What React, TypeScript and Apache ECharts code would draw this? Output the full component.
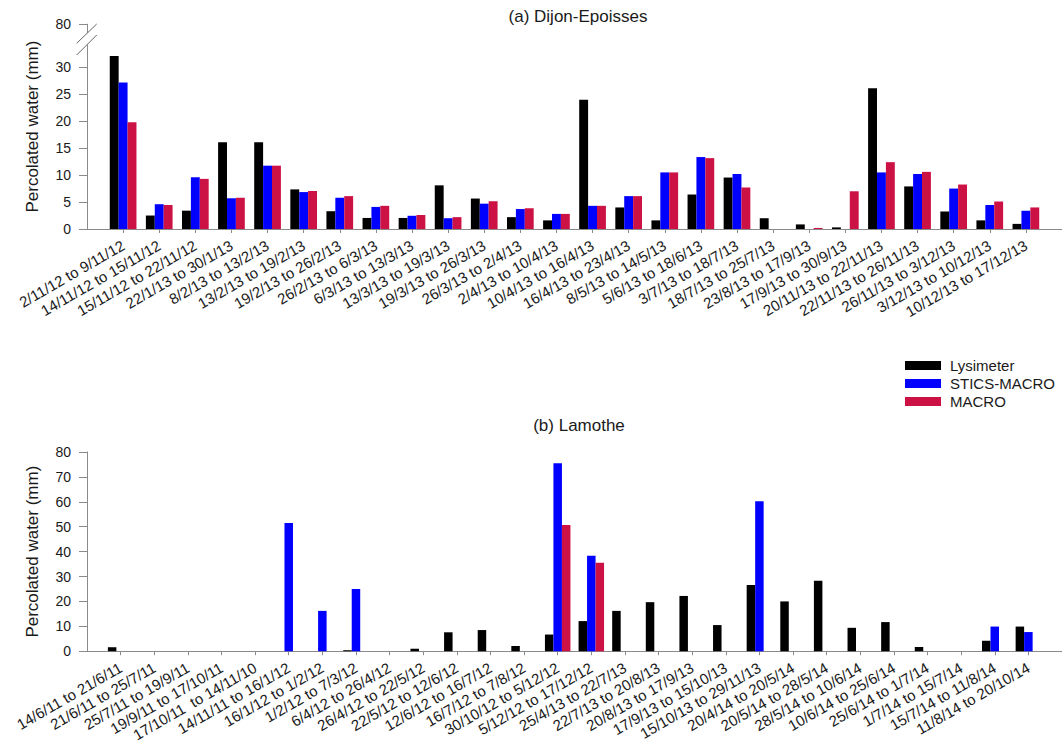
import React, { useEffect, useRef } from "react";
import * as echarts from "echarts";

const seriesNames = ["Lysimeter", "STICS-MACRO", "MACRO"];
const seriesColors = ["#000000", "#0000FF", "#CC1144"];

const dijonTitle = "(a) Dijon-Epoisses";
const dijonCategories = [
  "2/11/12 to 9/11/12",
  "14/11/12 to 15/11/12",
  "15/11/12 to 22/11/12",
  "22/1/13 to 30/1/13",
  "8/2/13 to 13/2/13",
  "13/2/13 to 19/2/13",
  "19/2/13 to 26/2/13",
  "26/2/13 to 6/3/13",
  "6/3/13 to 13/3/13",
  "13/3/13 to 19/3/13",
  "19/3/13 to 26/3/13",
  "26/3/13 to 2/4/13",
  "2/4/13 to 10/4/13",
  "10/4/13 to 16/4/13",
  "16/4/13 to 23/4/13",
  "8/5/13 to 14/5/13",
  "5/6/13 to 18/6/13",
  "3/7/13 to 18/7/13",
  "18/7/13 to 25/7/13",
  "23/8/13 to 17/9/13",
  "17/9/13 to 30/9/13",
  "20/11/13 to 22/11/13",
  "22/11/13 to 26/11/13",
  "26/11/13 to 3/12/13",
  "3/12/13 to 10/12/13",
  "10/12/13 to 17/12/13",
];
const dijonLysimeter = [32.1, 2.5, 3.4, 16.1, 16.1, 7.35, 3.3, 2.05, 2.05, 8.1, 5.65, 2.2, 1.6, 24.0, 4.0, 1.6, 6.4, 9.55, 2.0, 0.85, 0.3, 26.1, 7.9, 3.25, 1.6, 0.95];
const dijonSticsMacro = [27.2, 4.6, 9.6, 5.7, 11.75, 6.85, 5.8, 4.1, 2.45, 2.0, 4.7, 3.7, 2.8, 4.3, 6.1, 10.5, 13.35, 10.2, 0, 0, 0, 10.5, 10.2, 7.5, 4.45, 3.4];
const dijonMacro = [19.8, 4.45, 9.3, 5.8, 11.75, 7.05, 6.1, 4.3, 2.6, 2.2, 5.15, 3.85, 2.8, 4.3, 6.1, 10.5, 13.15, 7.7, 0, 0.2, 7.0, 12.4, 10.6, 8.25, 5.1, 4.0];
const dijonYTicks = [0, 5, 10, 15, 20, 25, 30];
const dijonBreakValue = 38; // position of the label above the axis break
const dijonBreakLabel = "80";

const lamotheTitle = "(b) Lamothe";
const lamotheCategories = [
  "14/6/11 to 21/6/11",
  "21/6/11 to 25/7/11",
  "25/7/11 to 19/9/11",
  "19/9/11 to 17/10/11",
  "17/10/11  to 14/11/10",
  "14/11/11 to 16/1/12",
  "16/1/12 to 1/2/12",
  "1/2/12 to 7/3/12",
  "6/4/12 to 26/4/12",
  "26/4/12 to 22/5/12",
  "22/5/12 to 12/6/12",
  "12/6/12 to 16/7/12",
  "16/7/12 to 7/8/12",
  "30/10/12 to 5/12/12",
  "5/12/12 to 17/12/12",
  "25/4/13 to 22/7/13",
  "22/7/13 to 20/8/13",
  "20/8/13 to 17/9/13",
  "17/9/13 to 15/10/13",
  "15/10/13 to 29/11/13",
  "20/4/14 to 20/5/14",
  "20/5/14 to 28/5/14",
  "28/5/14 to 10/6/14",
  "10/6/14 to 25/6/14",
  "25/6/14 to 1/7/14",
  "1/7/14 to 15/7/14",
  "15/7/14 to 11/8/14",
  "11/8/14 to 20/10/14",
];
const lamotheLysimeter = [1.6, 0, 0, 0, 0, 0, 0, 0.4, 0, 1.0, 7.6, 8.5, 2.1, 6.7, 12.1, 16.2, 19.7, 22.2, 10.5, 26.6, 20.0, 28.3, 9.4, 11.7, 1.7, 0, 4.2, 9.9];
const lamotheSticsMacro = [0, 0, 0, 0, 0, 51.5, 16.2, 25.0, 0, 0, 0, 0, 0, 75.5, 38.3, 0, 0, 0, 0, 60.2, 0, 0, 0, 0, 0, 0, 9.9, 7.7];
const lamotheMacro = [0, 0, 0, 0, 0, 0, 0, 0, 0, 0, 0, 0, 0, 50.7, 35.5, 0, 0, 0, 0, 0, 0, 0, 0, 0, 0, 0, 0, 0];
const lamotheYMax = 80;
const lamotheYInterval = 10;

const yAxisName = "Percolated water (mm)";

const FONT = "'Liberation Sans', Arial, Helvetica, sans-serif";
const TEXT = "#1a1a1a";
const AXIS = "#8a8a8a";

export default function App() {
  const ref = useRef<HTMLDivElement>(null);

  useEffect(() => {
    if (!ref.current) return;
    const chart = echarts.init(ref.current, undefined, { renderer: "svg" });

    const dijonPos = dijonCategories.map((_, i) => i + 1);
    const lamothePos = lamotheCategories.map((_, i) => i + 1);

    const xAxisCommon = (cats: string[], pos: number[], max: number, gridIndex: number) => ({
      gridIndex,
      type: "value",
      min: 0,
      max,
      axisLine: { show: true, onZero: false, lineStyle: { color: AXIS, width: 1 } },
      axisTick: { show: true, length: 4, customValues: pos, lineStyle: { color: AXIS } },
      axisLabel: {
        customValues: pos,
        formatter: (v: number) => cats[Math.round(v) - 1] ?? "",
        rotate: 30,
        fontSize: 15,
        color: TEXT,
        fontFamily: FONT,
        margin: 15,
      },
      splitLine: { show: false },
    });

    const dijonYVals = [...dijonYTicks, dijonBreakValue];

    const mkSeries = (vals: number[][], axisIndex: number, width: number) =>
      vals.map((arr, k) => ({
        name: seriesNames[k],
        type: "bar",
        xAxisIndex: axisIndex,
        yAxisIndex: axisIndex,
        barWidth: width,
        barGap: "0%",
        itemStyle: { color: seriesColors[k] },
        data: arr.map((v, i) => [i + 1, v]),
      }));

    chart.setOption({
      animation: false,
      textStyle: { fontFamily: FONT },
      title: [
        {
          text: dijonTitle,
          left: 578,
          top: 8,
          padding: 0,
          textAlign: "center",
          textStyle: { fontSize: 17, fontWeight: "normal", color: TEXT, fontFamily: FONT },
        },
        {
          text: lamotheTitle,
          left: 579,
          top: 417,
          padding: 0,
          textAlign: "center",
          textStyle: { fontSize: 17, fontWeight: "normal", color: TEXT, fontFamily: FONT },
        },
      ],
      legend: {
        data: seriesNames,
        orient: "vertical",
        left: 905,
        top: 358,
        padding: 0,
        itemWidth: 36,
        itemHeight: 9,
        itemGap: 3,
        icon: "rect",
        textStyle: { fontSize: 15, color: TEXT, fontFamily: FONT, padding: [0, 0, 0, 4] },
      },
      grid: [
        { left: 87, right: -7, top: 24.2, height: 204.8 },
        { left: 87, right: -7, top: 452, height: 203.7 },
      ],
      xAxis: [
        xAxisCommon(dijonCategories, dijonPos, dijonCategories.length + 1, 0),
        xAxisCommon(lamotheCategories, lamothePos, lamotheCategories.length + 1, 1),
      ],
      yAxis: [
        {
          gridIndex: 0,
          type: "value",
          min: 0,
          max: dijonBreakValue,
          axisLine: { show: true, lineStyle: { color: AXIS } },
          axisTick: { show: true, length: 8, customValues: dijonYVals, lineStyle: { color: AXIS } },
          axisLabel: {
            customValues: dijonYVals,
            formatter: (v: number) => (v === dijonBreakValue ? dijonBreakLabel : String(v)),
            fontSize: 14,
            color: TEXT,
            fontFamily: FONT,
            margin: 16,
          },
          splitLine: { show: false },
          name: yAxisName,
          nameLocation: "middle",
          nameGap: 46,
          nameTextStyle: { fontSize: 17, color: TEXT, fontFamily: FONT },
        },
        {
          gridIndex: 1,
          type: "value",
          min: 0,
          max: lamotheYMax,
          interval: lamotheYInterval,
          axisLine: { show: true, lineStyle: { color: AXIS } },
          axisTick: { show: true, length: 8, lineStyle: { color: AXIS } },
          axisLabel: { fontSize: 14, color: TEXT, fontFamily: FONT, margin: 16 },
          splitLine: { show: false },
          name: yAxisName,
          nameLocation: "middle",
          nameGap: 46,
          nameTextStyle: { fontSize: 17, color: TEXT, fontFamily: FONT },
        },
      ],
      graphic: [
        {
          type: "polygon",
          z: 100,
          shape: { points: [[83, 37.5], [91, 29.5], [91, 41.5], [83, 49]] },
          style: { fill: "#ffffff", stroke: null },
        },
        {
          type: "line",
          z: 101,
          shape: { x1: 76.7, y1: 43.3, x2: 96.7, y2: 24 },
          style: { stroke: "#666666", lineWidth: 1 },
        },
        {
          type: "line",
          z: 101,
          shape: { x1: 76.7, y1: 55, x2: 96.7, y2: 35 },
          style: { stroke: "#666666", lineWidth: 1 },
        },
      ],
      series: [
        ...mkSeries([dijonLysimeter, dijonSticsMacro, dijonMacro], 0, 8.9),
        ...mkSeries([lamotheLysimeter, lamotheSticsMacro, lamotheMacro], 1, 8.5),
      ],
    });

    return () => chart.dispose();
  }, []);

  return (
    <div
      ref={ref}
      style={{ position: "fixed", left: 0, top: 0, width: 1062, height: 744, background: "#fff" }}
    />
  );
}
